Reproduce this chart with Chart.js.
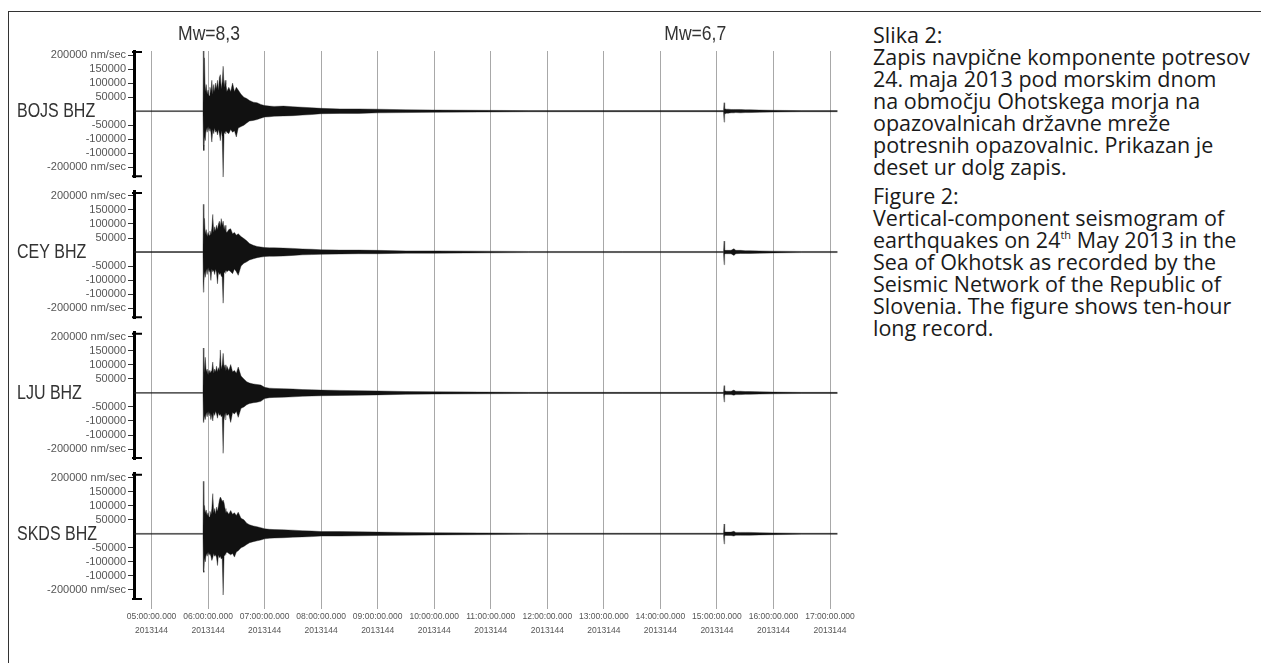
<!DOCTYPE html>
<html>
<head>
<meta charset="utf-8">
<script src="https://cdn.jsdelivr.net/npm/chart.js@4.4.1/dist/chart.umd.min.js"></script>
<style>
body { margin:0; background:#fff; width:1261px; height:663px; overflow:hidden; position:relative; }
#frame { position:absolute; left:8px; top:11px; right:0; bottom:0; border-top:1px solid #333; border-left:1px solid #333; }
#c { position:absolute; left:0; top:0; }
#caption { position:absolute; left:873px; top:24px; font-family:"Open Sans", sans-serif; font-size:21.5px; line-height:22px; color:#1a1a1a; white-space:nowrap; }
#caption p { margin:0 0 7px 0; }
#caption sup { font-size:11px; line-height:0; vertical-align:9px; }
</style>
</head>
<body>
<div id="frame"></div>
<canvas id="c" width="860" height="663"></canvas>
<div id="caption">
<p>Slika 2:<br>Zapis navpične komponente potresov<br>24. maja 2013 pod morskim dnom<br>na območju Ohotskega morja na<br>opazovalnicah državne mreže<br>potresnih opazovalnic. Prikazan je<br>deset ur dolg zapis.</p>
<p>Figure 2:<br>Vertical-component seismogram of<br>earthquakes on 24<sup>th</sup> May 2013 in the<br>Sea of Okhotsk as recorded by the<br>Seismic Network of the Republic of<br>Slovenia. The figure shows ten-hour<br>long record.</p>
</div>
<script>
// sample times, minutes after 00:00 UTC (2013-05-24)
const minutes = [281, 354.6, 355, 355.6, 356.2, 357, 358, 359, 360, 361, 362, 363, 364, 365, 366, 367, 368, 369, 370, 371, 372, 373, 374, 375, 376, 377, 378, 379, 380, 382, 384, 386, 388, 390, 392, 395, 398, 401, 404, 408, 412, 416, 420, 425, 430, 440, 450, 460, 470, 480, 500, 520, 540, 570, 600, 700, 800, 907, 907.6, 908.2, 909, 910, 912, 915, 918, 920, 925, 930, 935, 945, 960, 990, 1028];

// envelope of each trace (max / min), in 1000 nm/sec
const bojsHi = [1.5, 1.5, 215, 60, 190, 70, 95, 60, 75, 55, 85, 65, 110, 60, 95, 70, 100, 80, 110, 75, 120, 130, 80, 105, 160, 85, 110, 95, 70, 85, 70, 100, 70, 85, 75, 60, 50, 45, 38, 32, 30, 24, 20, 18, 17, 18, 16, 14, 12, 10, 8, 8, 7, 5, 4, 2, 2, 2, 30, 8, 8, 7, 7, 6, 6, 6, 6, 5, 5, 4, 3, 2, 2];
const bojsLo = [-1.5, -1.5, -120, -140, -90, -105, -60, -75, -55, -70, -60, -75, -110, -65, -80, -60, -75, -70, -85, -65, -80, -105, -70, -90, -235, -75, -80, -70, -75, -80, -65, -75, -70, -92, -60, -55, -50, -42, -35, -33, -30, -25, -21, -20, -18, -17, -16, -14, -12, -9, -8, -8, -6, -5, -4, -2, -2, -2, -39, -8, -9, -7, -7, -6, -6, -5, -6, -5, -5, -4, -3, -2, -2];

const ceyHi = [1.5, 1.5, 170, 60, 120, 65, 80, 55, 70, 60, 75, 60, 85, 134, 70, 90, 75, 95, 80, 100, 110, 90, 119, 95, 110, 80, 95, 75, 70, 80, 83, 65, 70, 60, 65, 55, 48, 40, 30, 24, 20, 18, 16, 15, 15, 14, 13, 11, 10, 8, 7, 7, 6, 4, 4, 2, 2, 2, 39, 8, 6, 6, 6, 6, 12, 6, 6, 5, 5, 4, 3, 2, 2];
const ceyLo = [-1.5, -1.5, -143, -110, -70, -90, -60, -80, -55, -70, -65, -101, -60, -70, -65, -80, -60, -75, -113, -70, -80, -75, -85, -90, -182, -70, -75, -65, -70, -65, -70, -77, -60, -70, -83, -50, -40, -35, -28, -24, -20, -18, -16, -15, -15, -14, -12, -10, -9, -8, -7, -6, -6, -4, -4, -2, -2, -2, -45, -8, -6, -6, -6, -6, -12, -6, -5, -5, -5, -4, -3, -2, -2];

const ljuHi = [1.5, 1.5, 160, 70, 90, 127, 75, 85, 65, 80, 70, 75, 80, 110, 70, 85, 75, 95, 75, 90, 80, 153, 85, 100, 141, 90, 100, 80, 95, 80, 101, 75, 80, 70, 92, 60, 50, 40, 35, 32, 30, 28, 20, 17, 16, 15, 14, 12, 11, 10, 9, 8, 7, 5, 4, 2, 2, 2, 26, 7, 7, 6, 6, 6, 10, 6, 6, 5, 5, 4, 3, 2, 2];
const ljuLo = [-1.5, -1.5, -105, -99, -80, -95, -70, -85, -65, -80, -70, -95, -75, -100, -70, -80, -65, -75, -90, -70, -80, -75, -85, -80, -215, -75, -95, -70, -80, -75, -105, -70, -75, -65, -87, -55, -50, -42, -38, -35, -33, -30, -20, -17, -16, -15, -14, -12, -11, -10, -9, -8, -7, -5, -4, -2, -2, -2, -32, -7, -6, -6, -6, -6, -8, -6, -6, -5, -5, -4, -3, -2, -2];

const skdsHi = [1.5, 1.5, 187, 70, 101, 75, 85, 65, 75, 60, 80, 65, 90, 143, 75, 90, 70, 95, 80, 100, 120, 131, 125, 115, 120, 110, 90, 75, 80, 70, 83, 70, 75, 65, 77, 55, 50, 38, 32, 28, 25, 22, 18, 16, 15, 14, 13, 11, 10, 8, 8, 7, 6, 5, 4, 2, 2, 2, 35, 7, 6, 6, 6, 6, 9, 5, 5, 5, 5, 4, 3, 2, 2];
const skdsLo = [-1.5, -1.5, -131, -137, -85, -100, -70, -80, -65, -75, -70, -80, -95, -85, -70, -80, -75, -85, -113, -75, -85, -80, -90, -85, -218, -80, -75, -70, -65, -70, -75, -70, -83, -65, -60, -50, -45, -38, -32, -28, -25, -22, -18, -16, -15, -14, -12, -11, -10, -8, -8, -7, -6, -5, -4, -2, -2, -2, -36, -7, -6, -6, -6, -6, -8, -5, -5, -5, -5, -4, -3, -2, -2];

const stations = ['BOJS BHZ', 'CEY BHZ', 'LJU BHZ', 'SKDS BHZ'];
const highs = [bojsHi, ceyHi, ljuHi, skdsHi];
const lows = [bojsLo, ceyLo, ljuLo, skdsLo];

const hourTicks = [300, 360, 420, 480, 540, 600, 660, 720, 780, 840, 900, 960, 1020];
const hourLabels = ['05:00:00.000', '06:00:00.000', '07:00:00.000', '08:00:00.000', '09:00:00.000', '10:00:00.000', '11:00:00.000', '12:00:00.000', '13:00:00.000', '14:00:00.000', '15:00:00.000', '16:00:00.000', '17:00:00.000'];
const dayLabel = '2013144';

const ampTicks = [200, 150, 100, 50, -50, -100, -150, -200];
const ampLabels = ['200000 nm/sec', '150000', '100000', '50000', '-50000', '-100000', '-100000', '-200000 nm/sec'];

const mwTimes = [361, 877];
const mwLabels = ['Mw=8,3', 'Mw=6,7'];

const FONT = '"Liberation Sans", Arial, sans-serif';

// datasets: upper envelope filled down to lower envelope
const datasets = [];
stations.forEach((name, i) => {
  datasets.push({
    label: name, yAxisID: 'y' + i,
    data: minutes.map((t, k) => ({x: t, y: highs[i][k]})),
    fill: '+1', backgroundColor: '#111', borderColor: '#222', borderWidth: 0.4,
    pointRadius: 0, tension: 0
  });
  datasets.push({
    label: name + ' min', yAxisID: 'y' + i,
    data: minutes.map((t, k) => ({x: t, y: lows[i][k]})),
    fill: false, borderColor: '#222', borderWidth: 0.4,
    pointRadius: 0, tension: 0
  });
});

const scales = {
  x: {
    type: 'linear', min: 281.4, max: 1030.6,
    afterBuildTicks: s => { s.ticks = hourTicks.map(v => ({value: v})); },
    afterFit: s => { s.height = 54; },
    ticks: {
      autoSkip: false, maxRotation: 0, padding: 1, color: '#555',
      font: {family: FONT, size: 8.5, lineHeight: 1.65},
      callback: v => [hourLabels[hourTicks.indexOf(v)], dayLabel]
    },
    grid: {color: '#a8a8a8', lineWidth: 1, drawTicks: false},
    border: {display: false}
  }
};

// stacked left axes: panel, gap, panel, gap ...
const order = [];
stations.forEach((s, i) => {
  order.push({id: 'y' + i, panel: true});
  order.push({id: 'g' + i, panel: false, w: i < 3 ? 14.5 : 9});
});
order.forEach((o, k) => {
  const base = {position: 'left', stack: 'traces', weight: order.length - k, afterFit: s => { s.width = 134; }};
  if (o.panel) {
    scales[o.id] = Object.assign(base, {
      stackWeight: 126, min: -235.7, max: 214.3,
      afterBuildTicks: s => { s.ticks = ampTicks.map(v => ({value: v})); },
      ticks: {autoSkip: false, padding: 2, color: '#555', font: {family: FONT, size: 11},
        callback: v => ampLabels[ampTicks.indexOf(v)]},
      grid: {drawOnChartArea: false, tickLength: 6, color: '#333', lineWidth: 1},
      border: {display: true, width: 3, color: '#000'}
    });
  } else {
    scales[o.id] = Object.assign(base, {
      stackWeight: o.w, min: 0, max: 1,
      ticks: {display: false}, grid: {display: false}, border: {display: false}
    });
  }
});

// station names, bracket caps and magnitude notes
const marks = {
  id: 'marks',
  afterDraw(chart) {
    const ctx = chart.ctx;
    const xs = chart.scales.x;
    ctx.save();
    stations.forEach((name, i) => {
      const ys = chart.scales['y' + i];
      ctx.strokeStyle = '#000';
      ctx.lineWidth = 2;
      ctx.beginPath();
      ctx.moveTo(ys.right - 2, ys.top + 1); ctx.lineTo(ys.right + 8, ys.top + 1);
      ctx.moveTo(ys.right - 2, ys.bottom - 1); ctx.lineTo(ys.right + 8, ys.bottom - 1);
      ctx.stroke();
      ctx.save();
      ctx.translate(17, ys.getPixelForValue(0) + 6);
      ctx.scale(0.82, 1);
      ctx.font = '19.5px ' + FONT;
      ctx.fillStyle = '#333';
      ctx.textAlign = 'left';
      ctx.textBaseline = 'alphabetic';
      ctx.fillText(name, 0, 0);
      ctx.restore();
    });
    mwTimes.forEach((t, i) => {
      ctx.save();
      ctx.translate(xs.getPixelForValue(t), 40);
      ctx.scale(0.9, 1);
      ctx.font = '19.5px ' + FONT;
      ctx.fillStyle = '#333';
      ctx.textAlign = 'center';
      ctx.textBaseline = 'alphabetic';
      ctx.fillText(mwLabels[i], 0, 0);
      ctx.restore();
    });
    ctx.restore();
  }
};

new Chart(document.getElementById('c'), {
  type: 'line',
  data: {datasets: datasets},
  options: {
    responsive: false,
    animation: false,
    devicePixelRatio: 1,
    layout: {padding: {top: 51, left: 0, right: 20, bottom: 0}},
    plugins: {legend: {display: false}, tooltip: {enabled: false}},
    scales: scales
  },
  plugins: [marks]
});
</script>
</body>
</html>
